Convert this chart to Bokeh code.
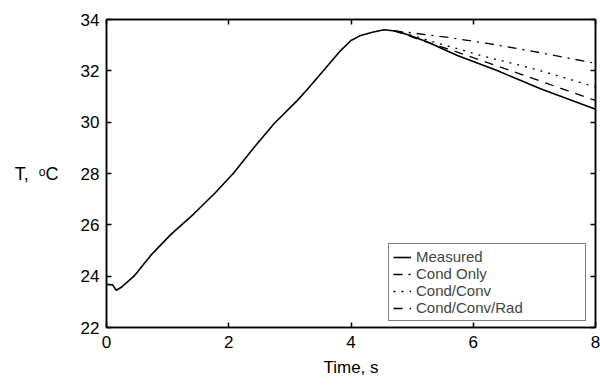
from bokeh.plotting import figure
from bokeh.models import Legend, LegendItem, LinearAxis, Range1d, FixedTicker
from bokeh.embed import file_html
from bokeh.resources import INLINE

# ---- data ----
t_meas = [0.0, 0.10, 0.16, 0.25, 0.45, 0.72, 1.05, 1.43, 1.78, 2.08, 2.41, 2.74,
          3.12, 3.28, 3.60, 3.83, 4.00, 4.16, 4.35, 4.54, 4.76, 5.00, 5.25,
          5.74, 6.39, 7.10, 8.0]
T_meas = [23.68, 23.66, 23.45, 23.58, 24.0, 24.8, 25.62, 26.43, 27.25, 28.02,
          29.0, 29.94, 30.84, 31.26, 32.15, 32.79, 33.18, 33.38, 33.5, 33.6,
          33.54, 33.35, 33.12, 32.6, 32.01, 31.3, 30.5]

t_only = [4.70, 4.92, 5.6, 6.28, 7.0, 7.98]
T_only = [33.56, 33.5, 33.3, 33.05, 32.75, 32.3]

t_conv = [4.70, 5.0, 5.36, 6.12, 6.99, 7.92, 8.0]
T_conv = [33.56, 33.38, 33.12, 32.6, 32.08, 31.43, 31.38]

t_rad = [4.70, 5.14, 5.58, 6.61, 7.92, 8.0]
T_rad = [33.56, 33.2, 32.86, 32.01, 30.91, 30.85]

x_ticks = [0, 2, 4, 6, 8]
y_ticks = [22, 24, 26, 28, 30, 32, 34]

labels = ["Measured", "Cond Only", "Cond/Conv", "Cond/Conv/Rad"]
x_title = "Time, s"
y_title = "T,\u00a0\u00a0\u1d52C"

FONT = "Liberation Sans"

p = figure(frame_width=489, frame_height=308, output_backend="svg",
           toolbar_location=None,
           x_range=Range1d(0, 8), y_range=Range1d(22, 34),
           min_border_left=106, min_border_right=5, min_border_top=19,
           min_border_bottom=52)
p.grid.visible = False
p.outline_line_color = "black"
p.outline_line_width = 1.5

for ax, ticks in ((p.xaxis[0], x_ticks), (p.yaxis[0], y_ticks)):
    ax.ticker = FixedTicker(ticks=ticks)
    ax.major_tick_in = 5
    ax.major_tick_out = 0
    ax.minor_tick_line_color = None
    ax.axis_line_width = 1.5
    ax.major_tick_line_width = 1.5
    ax.major_label_text_font = FONT
    ax.major_label_text_font_size = "17px"
    ax.major_label_text_color = "black"
    ax.axis_label_text_font = FONT
    ax.axis_label_text_font_size = "17px"
    ax.axis_label_text_font_style = "normal"
    ax.axis_label_text_color = "black"

p.yaxis.major_label_standoff = 7
p.xaxis.major_label_standoff = 8
p.xaxis.axis_label = x_title
p.xaxis.axis_label_standoff = 7

p.yaxis.axis_label = y_title
p.yaxis.axis_label_orientation = "horizontal"
p.yaxis.axis_label_text_font_size = "18px"
p.yaxis.axis_label_standoff = 19

# mirrored axes (ticks only) on top and right
def tick_axis(ticks):
    return LinearAxis(ticker=FixedTicker(ticks=ticks), major_tick_in=5,
                      major_tick_out=0, minor_tick_line_color=None,
                      major_label_text_font_size="1px",
                      major_label_text_color=None, axis_line_width=1.5,
                      major_tick_line_width=1.5, major_label_standoff=0)

p.add_layout(tick_axis(x_ticks), "above")
p.add_layout(tick_axis(y_ticks), "right")

r_meas = p.line(t_meas, T_meas, line_color="black", line_width=1.6)
r_only = p.line(t_only, T_only, line_color="black", line_width=1.3,
                line_dash="9 6 2 6")
r_conv = p.line(t_conv, T_conv, line_color="black", line_width=1.3,
                line_dash="2 6")
r_rad = p.line(t_rad, T_rad, line_color="black", line_width=1.3,
               line_dash="9 7")

legend = Legend(items=[LegendItem(label=labels[0], renderers=[r_meas]),
                       LegendItem(label=labels[1], renderers=[r_only]),
                       LegendItem(label=labels[2], renderers=[r_conv]),
                       LegendItem(label=labels[3], renderers=[r_rad])],
                location=(282, 6), border_line_color="black",
                border_line_width=1.2, background_fill_alpha=1,
                label_text_font=FONT, label_text_font_size="15px",
                label_height=14, glyph_height=14, glyph_width=18,
                label_width=165, label_standoff=5, spacing=0, padding=4,
                margin=0)
p.add_layout(legend)

open("out.html", "w").write(file_html(p, INLINE))
